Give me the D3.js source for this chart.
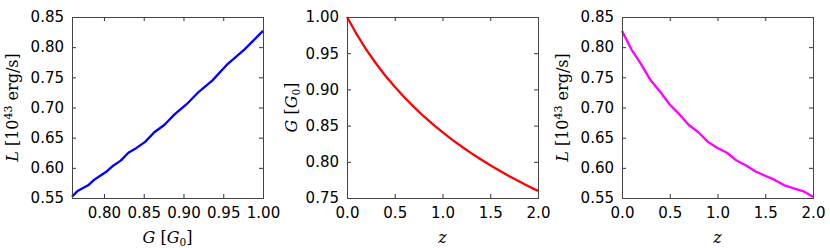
<html lang="en">
<head>
    <meta charset="UTF-8">
    <title>G and L versus z</title>
    <script src="https://d3js.org/d3.v7.min.js"></script>
    <style>
        body { margin: 0; background: #fff; }
        .line { fill: none; stroke-width: 2.3px; stroke-linejoin: round; }
        .tick text { font-family: "DejaVu Sans", sans-serif; font-size: 15px; fill: #000; }
        .tick line { stroke: #333; }
        .frame { fill: none; stroke: #444; stroke-width: 1px; }
        .axis-label { font-family: "DejaVu Serif", serif; font-size: 16px; fill: #000; }
    </style>
</head>
<body>
    <svg width="830" height="248"></svg>
    <script>
        // redshift grid
        const zValues = [0.0, 0.1, 0.2, 0.3, 0.4, 0.5, 0.6, 0.7, 0.8, 0.9, 1.0,
                         1.1, 1.2, 1.3, 1.4, 1.5, 1.6, 1.7, 1.8, 1.9, 2.0];
        // G [G0]
        const gValues = [1.000, 0.9765, 0.9554, 0.9365, 0.9193, 0.9036, 0.8891, 0.8758, 0.8633, 0.8518, 0.8409,
                         0.8307, 0.8211, 0.8120, 0.8034, 0.7953, 0.7875, 0.7801, 0.7731, 0.7663, 0.7598];
        // L [10^43 erg/s]
        const lValues = [0.827, 0.796, 0.772, 0.745, 0.726, 0.705, 0.689, 0.671, 0.659, 0.643, 0.633,
                         0.625, 0.612, 0.604, 0.594, 0.587, 0.580, 0.571, 0.566, 0.561, 0.552];

        const gTicks = [0.80, 0.85, 0.90, 0.95, 1.00];
        const zTicks = [0.0, 0.5, 1.0, 1.5, 2.0];
        const lTicks = [0.55, 0.60, 0.65, 0.70, 0.75, 0.80, 0.85];
        const gTicksY = [0.75, 0.80, 0.85, 0.90, 0.95, 1.00];

        const svg = d3.select("svg");

        const plotTop = 17, plotBottom = 198, w = 191;

        const panels = [
            {left: 72, xs: gValues, ys: lValues, xDomain: [d3.min(gValues), 1.0], yDomain: [0.55, 0.85],
             xTicks: gTicks, yTicks: lTicks, xFmt: ".2f", yFmt: ".2f", color: "#0000ff",
             xLabel: "G", yLabel: "L", yLabelOff: 54, xBase: 243},
            {left: 347, xs: zValues, ys: gValues, xDomain: [0, 2], yDomain: [0.75, 1.0],
             xTicks: zTicks, yTicks: gTicksY, xFmt: ".1f", yFmt: ".2f", color: "#ff0000",
             xLabel: "z", yLabel: "G", yLabelOff: 50, xBase: 243},
            {left: 622, xs: zValues, ys: lValues, xDomain: [0, 2], yDomain: [0.55, 0.85],
             xTicks: zTicks, yTicks: lTicks, xFmt: ".1f", yFmt: ".2f", color: "#ff00ff",
             xLabel: "z", yLabel: "L", yLabelOff: 54, xBase: 243}
        ];

        function labelG(t) {
            t.append("tspan").attr("font-style", "italic").text("G");
            t.append("tspan").text("\u00a0[");
            t.append("tspan").attr("font-style", "italic").text("G");
            t.append("tspan").attr("font-size", "10.5px").attr("dy", 2.5).text("0");
            t.append("tspan").attr("dy", -2.5).text("]");
        }
        function labelL(t) {
            t.append("tspan").attr("font-style", "italic").text("L");
            t.append("tspan").text("\u00a0[10");
            t.append("tspan").attr("font-size", "11px").attr("dy", -6).text("43");
            t.append("tspan").attr("dy", 6).text("\u00a0erg/s]");
        }

        panels.forEach(p => {
            const x = d3.scaleLinear().domain(p.xDomain).range([p.left, p.left + w]);
            const y = d3.scaleLinear().domain(p.yDomain).range([plotBottom, plotTop]);

            svg.append("g")
                .attr("transform", `translate(0,${plotBottom})`)
                .call(d3.axisBottom(x).tickValues(p.xTicks).tickFormat(d3.format(p.xFmt))
                    .tickSizeInner(-4).tickSizeOuter(0).tickPadding(9))
                .call(g => g.select(".domain").remove());
            svg.append("g")
                .attr("transform", `translate(0,${plotTop})`)
                .call(d3.axisTop(x).tickValues(p.xTicks).tickFormat("")
                    .tickSizeInner(-4).tickSizeOuter(0))
                .call(g => g.select(".domain").remove());
            svg.append("g")
                .attr("transform", `translate(${p.left},0)`)
                .call(d3.axisLeft(y).tickValues(p.yTicks).tickFormat(d3.format(p.yFmt))
                    .tickSizeInner(-4).tickSizeOuter(0).tickPadding(8))
                .call(g => g.select(".domain").remove());
            svg.append("g")
                .attr("transform", `translate(${p.left + w},0)`)
                .call(d3.axisRight(y).tickValues(p.yTicks).tickFormat("")
                    .tickSizeInner(-4).tickSizeOuter(0))
                .call(g => g.select(".domain").remove());

            const line = d3.line()
                .x((d, i) => x(p.xs[i]))
                .y((d, i) => y(p.ys[i]));

            svg.append("path")
                .datum(p.xs)
                .attr("class", "line")
                .attr("stroke", p.color)
                .attr("d", line);

            svg.append("rect")
                .attr("class", "frame")
                .attr("x", p.left + 0.5)
                .attr("y", plotTop + 0.5)
                .attr("width", w)
                .attr("height", plotBottom - plotTop);

            // x label
            const xl = svg.append("text")
                .attr("class", "axis-label")
                .attr("x", p.left + w / 2)
                .attr("y", p.xBase)
                .attr("text-anchor", "middle");
            if (p.xLabel === "G") labelG(xl);
            else xl.append("tspan").attr("font-style", "italic").text("z");

            // y label
            const yl = svg.append("text")
                .attr("class", "axis-label")
                .attr("text-anchor", "middle")
                .attr("transform", `translate(${p.left - p.yLabelOff},${(plotTop + plotBottom) / 2}) rotate(-90)`);
            if (p.yLabel === "G") labelG(yl);
            else labelL(yl);
        });
    </script>
</body>
</html>
